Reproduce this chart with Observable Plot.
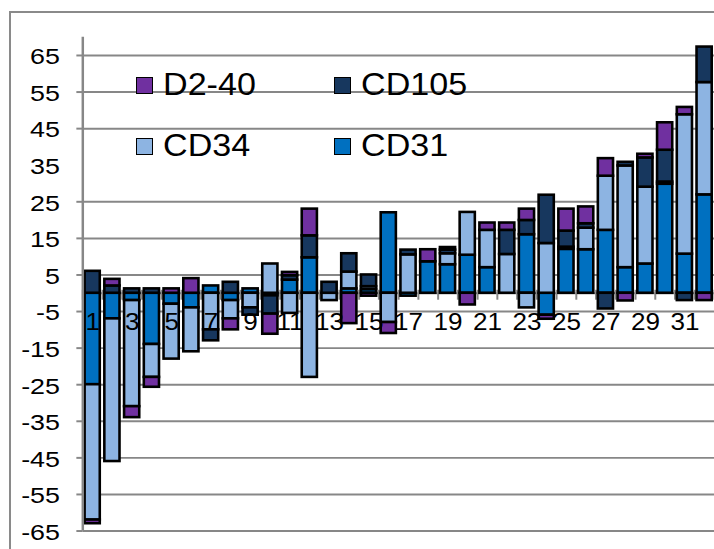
<!DOCTYPE html>
<html><head><meta charset="utf-8">
<script src="https://cdn.jsdelivr.net/npm/d3@7"></script>
<script src="https://cdn.jsdelivr.net/npm/@observablehq/plot@0.6"></script>
<style>
html,body{margin:0;padding:0;background:#fff;overflow:hidden;width:714px;height:549px}
#wrap{position:relative;width:714px;height:549px;overflow:hidden;background:#fff}
#frame{position:absolute;left:9px;top:11px;width:800px;height:800px;border-left:2.5px solid #8a8a8a;border-top:2.5px solid #8a8a8a;box-sizing:border-box}
#chart{position:absolute;left:0;top:0}
.leg{position:absolute;font-family:"Liberation Sans",Arial,sans-serif;font-size:31px;line-height:31px;white-space:nowrap;transform:scaleX(1.1);transform-origin:left center;color:#000}
.sw{position:absolute;width:15px;height:15px;border:1.5px solid #000}
</style></head><body>
<div id="wrap"><div id="frame"></div><div id="chart"></div><div id="legend"></div></div>
<script>
// ---- data ----
const categories = [1,2,3,4,5,6,7,8,9,10,11,12,13,14,15,16,17,18,19,20,21,22,23,24,25,26,27,28,29,30,31,32];
const seriesNames = ["CD31","CD34","CD105","D2-40"];
const cd31  = [-25,-7,-2,-14,-3,-4,2,-2,1.2,-0.7,3.6,9.7,0,1.2,1,22,-0.8,8.6,7.8,10.4,7,0,16,-6,12,11.9,17.2,7,8,29.8,10.7,26.9];
const cd34  = [-37,-39,-29,-9,-15,-12,-10,-5,-4,8,-5.5,-23,-2,4.6,0.8,-8,10.5,0,3,11.7,10.2,10.6,-4,13.6,0.6,5.9,14.8,27.8,21,0.6,38.1,30.7];
const cd105 = [6,2,1.2,1.2,0,0,-3,3,-2,-5,1.2,6,3,5,3.2,0,1.3,0,1,0,0,6.6,3.9,13.2,4.4,1.2,-4.3,1,8,8.7,-2,9.7];
const d240  = [-1,1.8,-3,-2.7,1.2,4,0,-3,0,-5.5,0.9,7.3,0,-8.3,-0.8,-3,0,3.3,0.7,-3.2,2,2,3.1,-1.1,6,4.6,4.8,-2.1,1,7.5,2,-2];
const yTickValues = [-65,-55,-45,-35,-25,-15,-5,5,15,25,35,45,55,65];
const gridValues  = [-65,-55,-45,-35,-25,-15,-5,5,15,25,45,55,65];
const xLabelValues = [1,3,5,7,9,11,13,15,17,19,21,23,25,27,29,31];
const legendOrder = ["D2-40","CD105","CD34","CD31"];
const colors = ["#0070C0","#8DB4E2","#17375E","#7030A0"];

const seriesValues = [cd31, cd34, cd105, d240];
const table = categories.flatMap((c, i) =>
  seriesNames.map((s, j) => ({cat: c, series: s, value: seriesValues[j][i]}))
).filter(d => d.value !== 0);
const boundaries = categories.map(c => c - 0.5).concat([categories[categories.length - 1] + 0.5]);
const grey = "#878787";

const chart = Plot.plot({
  width: 720, height: 549,
  marginLeft: 83, marginRight: 0, marginTop: 37, marginBottom: 14,
  x: {type: "linear", domain: [0.5, 32.5], axis: null},
  y: {domain: [-65, 70], axis: null},
  color: {domain: seriesNames, range: colors},
  style: {fontFamily: "'Liberation Sans', Arial, sans-serif", background: "transparent", overflow: "visible"},
  marks: [
    Plot.ruleY(gridValues, {stroke: grey, strokeWidth: 2}),
    Plot.ruleY([0], {stroke: grey, strokeWidth: 2}),
    Plot.ruleX(boundaries, {y1: 0, y2: 0, insetTop: -3, insetBottom: -7, stroke: grey, strokeWidth: 2}),
    Plot.rectY(table, Plot.stackY({
      x1: d => d.cat - 0.5, x2: d => d.cat + 0.5, y: "value", fill: "series",
      stroke: "black", strokeWidth: 2.6, insetLeft: 2.3, insetRight: 2.3
    })),
    Plot.ruleX([0.5], {y1: -65, y2: 70, stroke: grey, strokeWidth: 2.5}),
    Plot.ruleY(gridValues, {x1: 0.5, x2: 0.5, insetLeft: -6, stroke: grey, strokeWidth: 2}),
    Plot.text(yTickValues, {x: 0.5, y: d => d, text: d => String(d), textAnchor: "end", dx: -23, dy: 2, fontSize: 21.5, fill: "black"}),
    Plot.text(xLabelValues, {x: d => d, y: 0, text: d => String(d), dy: 30, fontSize: 23.5, fill: "black"})
  ]
});
document.getElementById("chart").appendChild(chart);

// widen glyphs slightly, as in the reference (keep non-numeric offsets such as "0.32em")
const scales = [1.26, 1.12];
chart.querySelectorAll('g[aria-label="text"]').forEach((g, gi) => {
  g.querySelectorAll("text").forEach(t => {
    const xa = t.getAttribute("x"), ya = t.getAttribute("y");
    let xn = 0, yn = 0;
    if (xa !== null && xa !== "" && !isNaN(+xa)) { xn = +xa; t.removeAttribute("x"); }
    if (ya !== null && ya !== "" && !isNaN(+ya)) { yn = +ya; t.removeAttribute("y"); }
    const tr = t.getAttribute("transform") || "";
    t.setAttribute("transform", `${tr} translate(${xn},${yn}) scale(${scales[gi] || 1.1},1)`);
  });
});

// legend
const legend = document.getElementById("legend");
const colLeft = [136, 334];
const rowTop = [77, 138];
legendOrder.forEach((name, k) => {
  const col = k % 2, row = Math.floor(k / 2);
  const sw = document.createElement("div");
  sw.className = "sw";
  sw.style.left = colLeft[col] + "px";
  sw.style.top = rowTop[row] + "px";
  sw.style.background = colors[seriesNames.indexOf(name)];
  legend.appendChild(sw);
  const tx = document.createElement("div");
  tx.className = "leg";
  tx.textContent = name;
  tx.style.left = (colLeft[col] + 27) + "px";
  tx.style.top = (rowTop[row] - 8) + "px";
  legend.appendChild(tx);
});
</script>
</body></html>
